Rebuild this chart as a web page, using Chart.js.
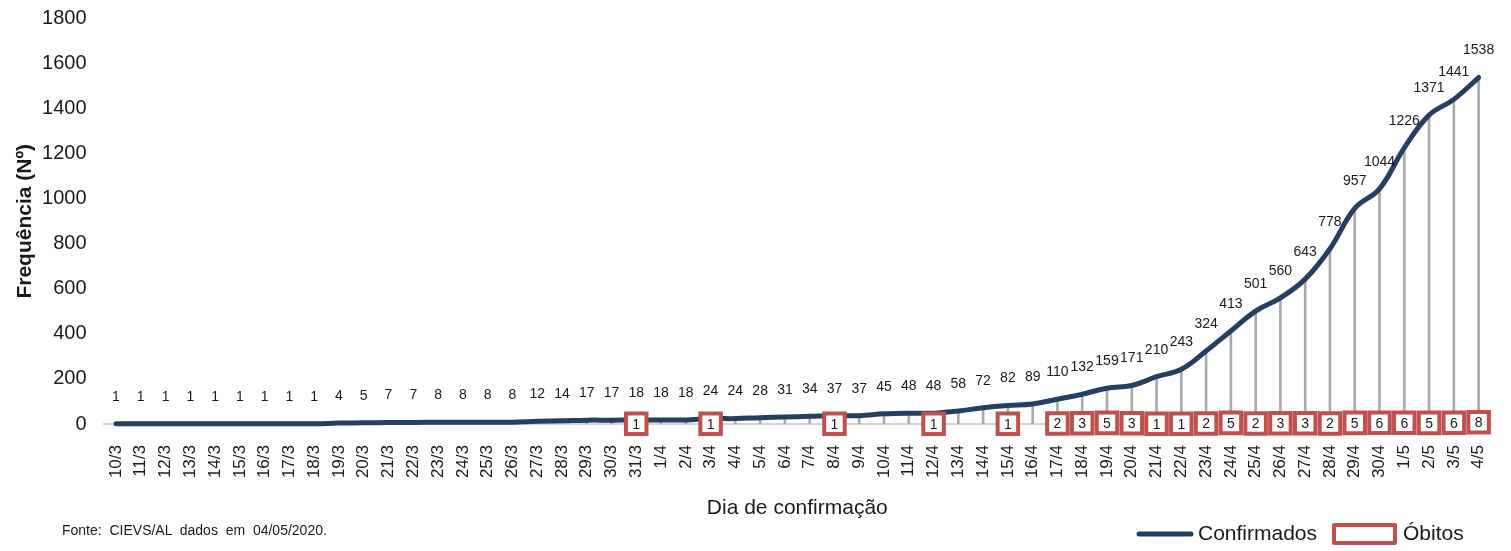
<!DOCTYPE html>
<html>
<head>
<meta charset="utf-8">
<script src="https://cdn.jsdelivr.net/npm/chart.js"></script>
<style>
  body {
    margin: 0;
    padding: 0;
    background: #fff;
  }

  #wrap {
    position: relative;
    width: 1511px;
    height: 551px;
  }

  #fonte {
    position: absolute;
    left: 62px;
    top: 521px;
    font: 14px "Liberation Sans", Arial, sans-serif;
    line-height: 18px;
    color: #1a1a1a;
    white-space: pre;
  }
</style>
</head>
<body>
<div id="wrap">
  <canvas id="chart"></canvas>
  <div id="fonte">Fonte:  CIEVS/AL  dados  em  04/05/2020.</div>
</div>
<script>
// dias de confirmação (10/3 a 4/5)
const dias = [
  '10/3', '11/3', '12/3', '13/3', '14/3', '15/3', '16/3', '17/3', '18/3', '19/3',
  '20/3', '21/3', '22/3', '23/3', '24/3', '25/3', '26/3', '27/3', '28/3', '29/3',
  '30/3', '31/3', '1/4', '2/4', '3/4', '4/4', '5/4', '6/4', '7/4', '8/4',
  '9/4', '10/4', '11/4', '12/4', '13/4', '14/4', '15/4', '16/4', '17/4', '18/4',
  '19/4', '20/4', '21/4', '22/4', '23/4', '24/4', '25/4', '26/4', '27/4', '28/4',
  '29/4', '30/4', '1/5', '2/5', '3/5', '4/5'
];

// casos confirmados acumulados
const confirmados = [
  1, 1, 1, 1, 1, 1, 1, 1, 1, 4,
  5, 7, 7, 8, 8, 8, 8, 12, 14, 17,
  17, 18, 18, 18, 24, 24, 28, 31, 34, 37,
  37, 45, 48, 48, 58, 72, 82, 89, 110, 132,
  159, 171, 210, 243, 324, 413, 501, 560, 643, 778,
  957, 1044, 1226, 1371, 1441, 1538
];

// óbitos acumulados (null = sem óbito registrado)
const obitos = [
  null, null, null, null, null, null, null, null, null, null,
  null, null, null, null, null, null, null, null, null, null,
  null, 1, null, null, 1, null, null, null, null, 1,
  null, null, null, 1, null, null, 1, null, 2, 3,
  5, 3, 1, 1, 2, 5, 2, 3, 3, 2,
  5, 6, 6, 5, 6, 8
];

const yTicks = [0, 200, 400, 600, 800, 1000, 1200, 1400, 1600, 1800];

const NAVY = '#253F63';
const RED = '#C0504D';
const FONT = '"Liberation Sans", Arial, sans-serif';

Chart.defaults.font.family = FONT;
Chart.defaults.color = '#1a1a1a';

// rótulos de valor acima da linha e dentro das caixas de óbitos
const valueLabels = {
  id: 'valueLabels',
  afterDatasetsDraw(chart) {
    const ctx = chart.ctx;
    ctx.save();
    ctx.font = '14px ' + FONT;
    ctx.textAlign = 'center';
    ctx.textBaseline = 'middle';
    ctx.fillStyle = '#1a1a1a';
    chart.getDatasetMeta(1).data.forEach((pt, i) => {
      ctx.fillText(String(confirmados[i]), pt.x, pt.y - 27);
    });
    chart.getDatasetMeta(0).data.forEach((pt, i) => {
      if (obitos[i] == null) return;
      ctx.fillText(String(obitos[i]), pt.x, pt.y + 1);
    });
    ctx.restore();
  }
};

// legenda desenhada à mão para ficar igual ao original
const legendaManual = {
  id: 'legendaManual',
  afterDraw(chart) {
    const ctx = chart.ctx;
    const y = 534;
    ctx.save();
    ctx.lineCap = 'round';
    ctx.strokeStyle = NAVY;
    ctx.lineWidth = 5;
    ctx.beginPath();
    ctx.moveTo(1139, y);
    ctx.lineTo(1191, y);
    ctx.stroke();

    ctx.lineCap = 'butt';
    ctx.lineJoin = 'round';
    ctx.strokeStyle = RED;
    ctx.lineWidth = 4;
    ctx.fillStyle = '#fff';
    ctx.fillRect(1334, 525, 61, 18);
    ctx.strokeRect(1334, 525, 61, 18);

    ctx.font = '21px ' + FONT;
    ctx.fillStyle = '#1a1a1a';
    ctx.textAlign = 'left';
    ctx.textBaseline = 'middle';
    ctx.fillText('Confirmados', 1198, y);
    ctx.fillText('Óbitos', 1403, y);
    ctx.restore();
  }
};

new Chart(document.getElementById('chart'), {
  type: 'bar',
  data: {
    labels: dias,
    datasets: [
      {
        type: 'line',
        label: 'Óbitos',
        data: obitos,
        showLine: false,
        clip: false,
        pointStyle: 'rect',
        pointRadius: 14.5,
        pointHoverRadius: 14.5,
        pointBorderWidth: 4,
        pointBorderColor: RED,
        pointBackgroundColor: '#fff',
        order: 0
      },
      {
        type: 'line',
        label: 'Confirmados',
        data: confirmados,
        borderColor: NAVY,
        borderWidth: 5,
        borderCapStyle: 'round',
        tension: 0.4,
        pointRadius: 0,
        clip: false,
        order: 1
      },
      {
        // linhas de projeção até o eixo
        type: 'bar',
        label: 'projeção',
        data: confirmados,
        backgroundColor: '#ABABAB',
        barThickness: 2,
        order: 2
      }
    ]
  },
  options: {
    responsive: true,
    maintainAspectRatio: false,
    animation: false,
    layout: {
      padding: { top: 15, right: 20, bottom: 30, left: 0 }
    },
    plugins: {
      legend: { display: false },
      tooltip: { enabled: false }
    },
    scales: {
      x: {
        offset: true,
        grid: { display: false, drawTicks: false },
        border: { display: true, color: '#D4D4D4', width: 2 },
        ticks: {
          minRotation: 90,
          maxRotation: 90,
          autoSkip: false,
          padding: 21,
          font: { size: 17 },
          color: '#1a1a1a'
        },
        title: {
          display: true,
          text: 'Dia de confirmação',
          font: { size: 21 },
          color: '#1a1a1a',
          padding: { top: 0, bottom: 0 }
        },
        afterFit(scale) {
          scale.height = 97;
          scale.paddingLeft = 0;
          scale.paddingRight = 0;
        }
      },
      y: {
        min: 0,
        max: 1800,
        grid: { display: false, drawTicks: false },
        border: { display: false },
        afterBuildTicks(scale) {
          scale.ticks = yTicks.map(v => ({ value: v }));
        },
        ticks: {
          padding: 17,
          font: { size: 20 },
          color: '#1a1a1a',
          callback: v => String(v)
        },
        title: {
          display: true,
          text: 'Frequência (Nº)',
          font: { size: 21, weight: 'bold' },
          color: '#1a1a1a',
          padding: { top: 13, bottom: 0 }
        },
        afterFit(scale) {
          scale.width = 103.6;
          scale.paddingTop = 0;
          scale.paddingBottom = 0;
        }
      }
    }
  },
  plugins: [valueLabels, legendaManual]
});
</script>
</body>
</html>
